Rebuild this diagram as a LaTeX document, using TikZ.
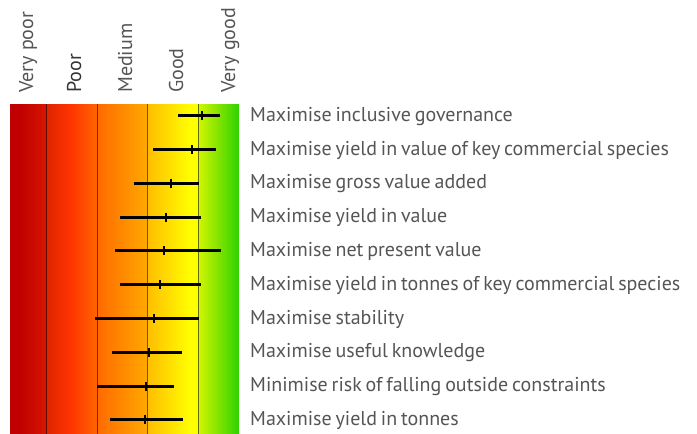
\documentclass[tikz,border=0pt]{standalone}
\usepackage{fontspec}
\setmainfont{PT Sans}
\newfontfamily\rowfont{PT Sans}[WordSpace=0.72]
\definecolor{lbl}{HTML}{555555}
\definecolor{lbldark}{HTML}{333333}
\begin{document}
\begin{tikzpicture}[x=1pt,y=-1pt,
  rowlabel/.style={anchor=base west,inner sep=0pt,text=lbl,font=\rowfont\fontsize{20}{24}\selectfont},
  toplabel/.style={anchor=base west,inner sep=0pt,rotate=90,text=lbl,font=\fontsize{20}{24}\selectfont},
  divider/.style={draw=black,draw opacity=0.55,line width=1.3pt},
  rangebar/.style={draw=black,line width=3pt},
  medtick/.style={draw=black,line width=2pt}]
\useasboundingbox (0,0) rectangle (697,434);
% gradient scale
\fill[fill={rgb,255:red,192;green,0;blue,0}] (10,104) rectangle (20.5,434);
\shade[left color={rgb,255:red,192;green,0;blue,0},right color={rgb,255:red,216;green,22;blue,0}] (20,104) rectangle (47,434);
\shade[left color={rgb,255:red,224;green,36;blue,0},right color={rgb,255:red,255;green,51;blue,0}] (46.8,104) rectangle (70.5,434);
\shade[left color={rgb,255:red,255;green,51;blue,0},right color={rgb,255:red,255;green,102;blue,0}] (70,104) rectangle (97.6,434);
\shade[left color={rgb,255:red,255;green,106;blue,0},right color={rgb,255:red,255;green,170;blue,0}] (97.3,104) rectangle (148,434);
\shade[left color={rgb,255:red,255;green,190;blue,0},right color={rgb,255:red,255;green,255;blue,0}] (147.7,104) rectangle (190.5,434);
\fill[fill={rgb,255:red,255;green,255;blue,0}] (190,104) rectangle (198.6,434);
\shade[left color={rgb,255:red,210;green,245;blue,0},right color={rgb,255:red,46;green,210;blue,0}] (198.3,104) rectangle (239,434);
% dividers
\foreach \i/\x in {1/46.7,2/97.3,3/147.7,4/198.3}{
  \coordinate (dt\i) at (\x,104);
  \coordinate (db\i) at (\x,434);
  \draw[divider] (dt\i) -- (db\i);
}
% top labels
\node[toplabel] (vp) at (33,93) {Very poor};
\node[toplabel,text=lbldark] (po) at (81,93) {Poor};
\node[toplabel] (me) at (132,93) {Medium};
\node[toplabel] (go) at (183,93) {Good};
\node[toplabel] (vg) at (235,93) {Very good};
% rows
\foreach \i/\lo/\md/\hi/\txt in {
 0/178/201.7/220.3/Maximise inclusive governance,
 1/153/192/215.7/Maximise yield in value of key commercial species,
 2/133.7/170.7/199.3/Maximise gross value added,
 3/120.3/166/201/Maximise yield in value,
 4/115/164.3/221/Maximise net present value,
 5/119.7/160/200.7/Maximise yield in tonnes of key commercial species,
 6/95/153.7/199.3/Maximise stability,
 7/112/149.3/181.7/Maximise useful knowledge,
 8/97.3/146/174.3/Minimise risk of falling outside constraints,
 9/110.3/145.3/183/Maximise yield in tonnes}{
  \pgfmathsetmacro{\yy}{115.7+33.81*\i}
  \coordinate (lo\i) at (\lo,\yy);
  \coordinate (hi\i) at (\hi,\yy);
  \coordinate (mt\i) at (\md,\yy-4.5);
  \coordinate (mb\i) at (\md,\yy+4.5);
  \draw[rangebar] (lo\i) -- (hi\i);
  \draw[medtick] (mt\i) -- (mb\i);
  \node[rowlabel] (lab\i) at (250,\yy+5.5) {\txt};
}
\end{tikzpicture}
\end{document}
